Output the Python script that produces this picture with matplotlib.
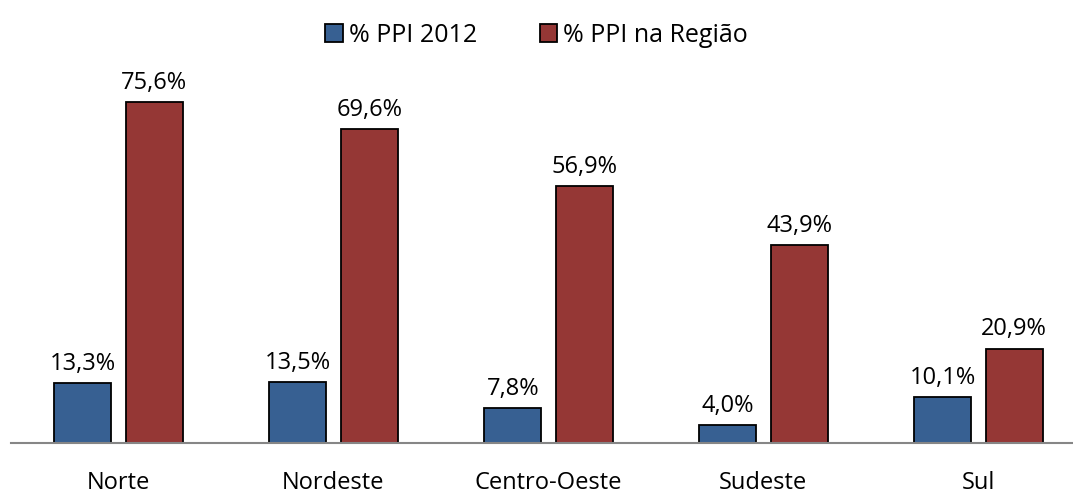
import matplotlib.pyplot as plt
import numpy as np

plt.rcParams['font.family'] = ['Open Sans', 'DejaVu Sans']

regioes = ["Norte", "Nordeste", "Centro-Oeste", "Sudeste", "Sul"]
ppi_2012 = [13.3, 13.5, 7.8, 4.0, 10.1]
ppi_regiao = [75.6, 69.6, 56.9, 43.9, 20.9]

fig = plt.figure(figsize=(10.73, 4.95), dpi=100)
ax = fig.add_axes([11/1073, 52/495, 1062/1073, 361/495])

x = np.arange(len(regioes))
w = 0.265
b1 = ax.bar(x - 0.166, ppi_2012, w, color="#376092", edgecolor="black", linewidth=1.3, label="% PPI 2012")
b2 = ax.bar(x + 0.166, ppi_regiao, w, color="#953735", edgecolor="black", linewidth=1.3, label="% PPI na Região")

def fmt(v):
    return f"{v:.1f}%".replace(".", ",")

for bars, vals in [(b1, ppi_2012), (b2, ppi_regiao)]:
    for rect, v in zip(bars, vals):
        ax.text(rect.get_x() + rect.get_width()/2, v + 1.6, fmt(v), ha="center", va="bottom", fontsize=17)

ax.set_xlim(-0.5, 4.44)
ax.set_ylim(0, 80)
ax.set_xticks(x)
ax.set_xticklabels(regioes, fontsize=17)
ax.tick_params(axis="x", length=0, pad=20)
ax.set_yticks([])
for s in ["top", "right", "left"]:
    ax.spines[s].set_visible(False)
ax.spines["bottom"].set_color("#868686")
ax.spines["bottom"].set_linewidth(1.5)

fig.legend(loc="upper center", bbox_to_anchor=(0.5, 1.0), ncol=2, frameon=False, fontsize=18,
           handlelength=0.7, handleheight=0.7, handletextpad=0.25, columnspacing=2.5)

plt.savefig("out.png", dpi=100)
